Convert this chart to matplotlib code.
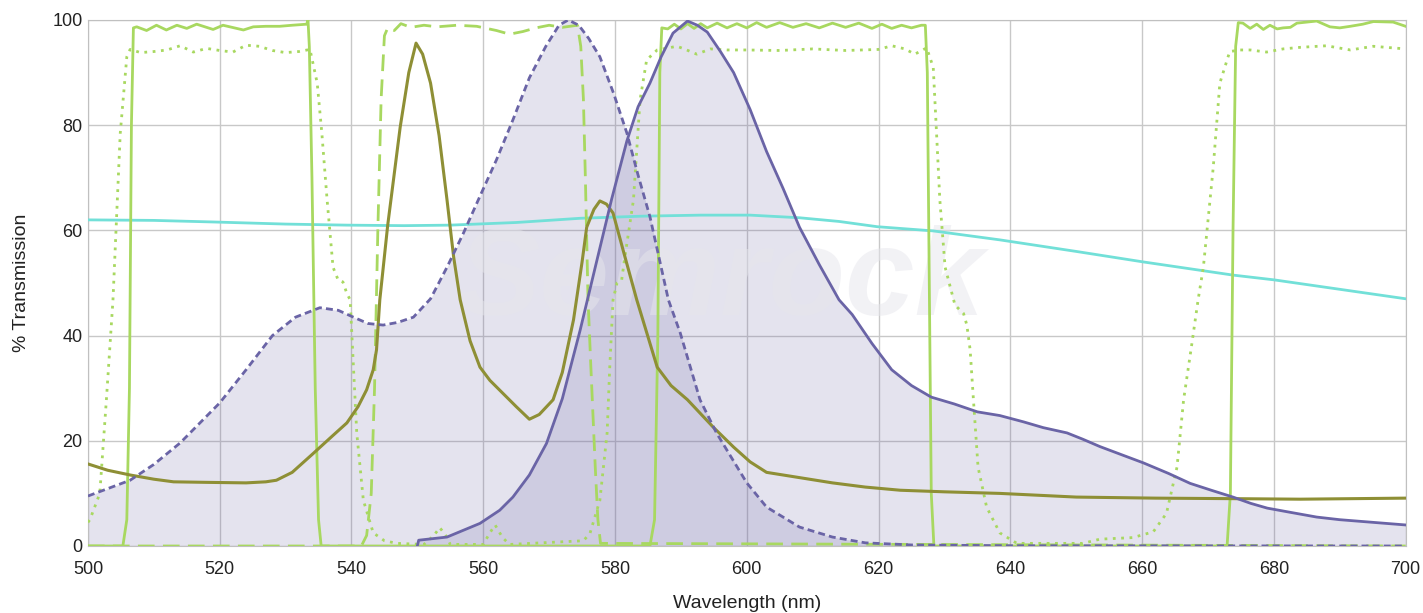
import matplotlib
matplotlib.use('Agg')
import matplotlib.pyplot as plt

plt.rcParams['font.family'] = ['Liberation Sans', 'DejaVu Sans']

# excitation spectrum (dashed, filled)
ex_wl = [500, 506.4, 510, 514, 520, 524, 528, 531.5, 535.2, 538, 540.3, 542.5, 544.8, 547, 549.4,
         552, 554.5, 557, 559.5, 562, 564.5, 567, 569.5, 571.5, 572.9, 574.5, 576, 577.7, 579.8,
         581.8, 583.5, 585.3, 588.1, 589.9, 592.9, 595.4, 600, 603, 608, 613, 618, 625, 640, 700]
ex_val = [9.5, 12.5, 15.5, 19.6, 27.2, 33.5, 40, 43.5, 45.3, 44.8, 43.5, 42.3, 42, 42.5, 43.5,
          47, 53, 59.5, 66.5, 73.4, 81, 89, 95, 99, 100, 99, 96.5, 93, 86,
          78.5, 70.5, 62.6, 46.8, 40.5, 27.8, 21.5, 12, 7.4, 3.6, 1.7, 0.6, 0.2, 0.05, 0]

# emission spectrum (solid, filled)
em_wl = [550, 550.2, 554.5, 559.5, 562.5, 564.5, 567, 569.6, 572, 574.7, 577, 579.5, 581.8, 583.5,
         585.3, 587, 588.8, 591, 592.5, 594, 596, 598, 600.5, 603, 605.5, 608, 611, 614, 616, 619,
         622, 625, 628, 631.5, 635, 638.4, 642, 645, 648.6, 651, 653.6, 657, 660.2, 664, 667.3,
         670.5, 673.8, 676.5, 679, 682.5, 686.5, 690, 694, 697, 700]
em_val = [0, 1.1, 1.7, 4.3, 6.8, 9.3, 13.5, 19.5, 28, 41, 53, 66, 77, 83.5,
          88, 93, 97.5, 99.8, 99, 97.7, 94, 90, 83, 75, 68, 60.6, 53.5, 46.8, 44, 38.5,
          33.5, 30.5, 28.3, 27, 25.5, 24.8, 23.6, 22.5, 21.5, 20.3, 18.9, 17.3, 15.8, 13.8, 11.9,
          10.6, 9.3, 8.1, 7.2, 6.4, 5.5, 5, 4.6, 4.3, 4]

# olive curve
ol_wl = [500, 503, 506.4, 510, 513, 518, 524, 527, 528.6, 531, 534.2, 537, 539.3, 541, 542.3, 543.3,
         543.8, 544.3, 545.5, 547.4, 548.7, 549.8, 550.8, 552, 553.3, 554.5, 555.5, 556.5, 558,
         559.5, 561, 563, 565, 567, 568.5, 570.6, 572, 573.7, 575, 575.7, 576.8, 577.7, 578.7,
         579.7, 581.5, 583.3, 586.4, 588.5, 591, 594.9, 598, 600.5, 603, 608, 613, 618, 623.3,
         630, 638.4, 650, 662, 673.8, 684, 692, 700]
ol_val = [15.6, 14.4, 13.5, 12.7, 12.2, 12.1, 12, 12.2, 12.5, 14, 17.6, 20.8, 23.4, 26.5, 29.7, 33.5,
          37.3, 46.8, 61, 79.7, 90, 95.6, 93.5, 88, 78, 65.8, 55, 46.8, 39,
          34, 31.5, 29, 26.5, 24.1, 25, 27.8, 33, 43, 54, 60.6, 64, 65.6, 65,
          63.3, 55, 46.8, 34, 30.5, 27.8, 22.6, 18.8, 16, 14, 13, 12, 11.2, 10.6,
          10.3, 10, 9.3, 9.1, 9, 8.9, 9, 9.1]

# cyan curve
cy_wl = [500, 510, 519, 530, 539.3, 548, 555, 565, 574.7, 584, 593, 600.5, 608, 614, 619.8,
         628.3, 638.4, 650, 660.2, 673.8, 680, 690, 700]
cy_val = [62, 61.9, 61.6, 61.2, 61, 60.9, 61, 61.5, 62.3, 62.7, 62.9, 62.9, 62.4, 61.7, 60.7,
          59.9, 58.2, 56, 54, 51.5, 50.6, 48.8, 47]

# multiband filter (solid green)
mb_wl = [500, 505.3, 505.9, 506.3, 506.6, 506.9, 507.4, 508.9, 510.4, 511.9, 513.5, 515, 516.5,
         519, 520.5, 523.6, 525.1, 527, 529.1, 531, 533.2, 533.4, 533.6, 534, 534.5, 535, 535.4,
         585.3, 586, 586.5, 586.8, 587.1, 588, 589, 590, 591, 592, 593, 594, 595.5, 597, 598.5,
         600, 601.5, 603, 605, 607, 609, 611, 613, 615, 617, 619, 620.5, 622, 623.5, 625, 626.5,
         627.1, 627.4, 627.7, 628, 628.4,
         672.9, 673.4, 673.8, 674.2, 674.6, 675.3, 676.4, 677.4, 678.4, 679.4, 680.5, 681.4,
         682.5, 683.5, 685, 686.5, 688.5, 690, 691.6, 693.5, 695.1, 698.1, 700]
mb_val = [0, 0, 5, 30, 80, 98.5, 98.7, 98, 99, 98.1, 99, 98.4, 99.2,
          98.2, 99, 98.1, 98.7, 98.8, 98.8, 99, 99.2, 100, 95, 70, 30, 5, 0,
          0, 5, 40, 90, 98.5, 98.3, 99.2, 98.3, 99.3, 98.4, 99.3, 98.5, 99.4, 98.5, 99.3,
          98.5, 99.5, 98.6, 99.5, 98.6, 99.3, 98.5, 99.4, 98.6, 99.4, 98.4, 99.2, 98.4, 99, 98.5, 99,
          99, 90, 50, 10, 0,
          0, 10, 60, 95, 99.5, 99.4, 98.4, 99.2, 98.2, 99, 98.3, 98.5,
          98.6, 99.4, 99.6, 99.8, 98.7, 98.5, 98.8, 99.2, 99.7, 99.6, 98.8]

# single band filter (dashed green)
sb_wl = [500, 541.5, 542.3, 543, 543.5, 544, 544.5, 545, 545.5, 546.5, 547.5, 549, 551, 553, 556,
         559, 562, 564, 566, 568, 570, 572, 574.3, 574.8, 575.2, 575.5, 575.9, 576.3, 577, 577.4,
         577.8, 700]
sb_val = [0, 0, 2, 10, 30, 60, 85, 97, 98.5, 98, 99.3, 98.6, 99, 98.7, 99,
          98.8, 98, 97.3, 97.8, 98.5, 99, 98.6, 99, 95, 85, 70, 47, 35, 15, 5,
          0.5, 0]

# multiband filter (dotted green)
dt_wl = [500, 500.3, 501.8, 502.8, 503.8, 504.9, 505.9, 506.4, 508, 510, 512, 514, 516, 518, 520,
         522, 524, 526, 528, 530, 532, 533.7, 534.8, 535.5, 536.3, 537.2, 538, 538.7, 539.3,
         539.8, 540.3, 540.8, 541.8, 543.3, 545, 546.9, 551, 552.5, 553.4, 554.3, 555, 560, 561,
         561.8, 562.5, 563, 564, 575.2, 576.2, 577.7, 578.8, 579.2, 579.7, 580.3, 581, 581.5,
         582.8, 583.8, 584.8, 586.4, 589.4, 590.5, 592.4, 594.5, 597, 600, 605, 610, 615, 620,
         622, 624, 625.5, 627.3, 628.3, 628.8, 629.3, 630.1, 631.6, 632.9, 633.4, 633.9, 634.4,
         635.1, 636.4, 638.4, 641, 651, 653.6, 658.6, 661.7, 663.7, 665.3, 666.3, 667.5, 668.5,
         669.3, 670.8, 671.8, 673.3, 674.9, 676.4, 678.9, 681.4, 684, 688, 691.6, 695.1, 698, 700]
dt_val = [4.5, 5, 10, 27.8, 46.8, 78.4, 93, 94.4, 93.8, 94, 94.3, 95.1, 93.9, 94.6, 94.2,
          93.9, 95.2, 95, 94.2, 93.8, 94, 94.4, 88, 78.5, 65.8, 53, 50.5, 50.2, 48,
          46.8, 34, 21.5, 8.7, 2.5, 1, 0.5, 0.3, 2, 3.5, 2, 0.3, 0.3, 2.5,
          4, 2.5, 1.5, 0.3, 1, 2.4, 8.7, 21.5, 34, 46.8, 50, 50.5, 55,
          65.8, 84.8, 92.4, 94.3, 95, 94.5, 93.5, 94.5, 94.3, 94.3, 94.2, 94.5, 94.2, 94.4,
          95.1, 94.5, 93.5, 94.7, 91, 78.5, 65.8, 53, 45.8, 44.2, 42, 37.3, 27.8,
          15, 7.4, 2.5, 0.5, 0.5, 1.3, 1.6, 2.7, 6.2, 15, 27.8, 38, 46.8,
          53, 72, 88, 94, 94.3, 94.3, 93.9, 94.5, 94.8, 95.1, 94.3, 95, 94.7, 94.5]

PURPLE = '#6a64a6'
FILL = '#6a64a6'
OLIVE = '#8e8f35'
GREEN = '#a8d860'
CYAN = '#72e0d8'

fig = plt.figure(figsize=(14.23, 6.13), dpi=100)
ax = fig.add_axes([0.0618, 0.1093, 0.926, 0.8581])

ax.fill_between(ex_wl, ex_val, color=FILL, alpha=0.18, linewidth=0, zorder=1)
ax.fill_between(em_wl, em_val, color=FILL, alpha=0.18, linewidth=0, zorder=1)

# faint watermark
ax.text(596, 50, 'Semrock', fontsize=90, fontstyle='italic', fontweight='bold',
        color='#e6e6ec', alpha=0.5, ha='center', va='center', zorder=1.5)

ax.plot(cy_wl, cy_val, color=CYAN, lw=2.0, zorder=3)
ax.plot(mb_wl, mb_val, color=GREEN, lw=2.0, zorder=3)
ax.plot(sb_wl, sb_val, color=GREEN, lw=2.0, ls=(0, (6, 3)), zorder=3)
ax.plot(dt_wl, dt_val, color=GREEN, lw=2.0, ls=(0, (1, 2)), zorder=3)
ax.plot(ol_wl, ol_val, color=OLIVE, lw=2.2, zorder=4)
ax.plot(ex_wl, ex_val, color=PURPLE, lw=2.0, ls=(0, (2.5, 1.5)), zorder=4)
ax.plot(em_wl, em_val, color=PURPLE, lw=2.0, zorder=4)

ax.set_xlim(500, 700)
ax.set_ylim(0, 100)
ax.set_xticks(range(500, 701, 20))
ax.set_yticks(range(0, 101, 20))
ax.grid(True, color='#c8c8c8', lw=1.0)
ax.set_axisbelow(True)
ax.tick_params(length=0, labelsize=13, colors='#222222')
ax.tick_params(axis='x', pad=11)
ax.tick_params(axis='y', pad=4)
for s in ax.spines.values():
    s.set_color('#c0c0c0')
ax.set_xlabel('Wavelength (nm)', fontsize=14, labelpad=12, color='#222222')
ax.set_ylabel('% Transmission', fontsize=14, labelpad=16, color='#222222')

fig.savefig('out.png', dpi=100)
